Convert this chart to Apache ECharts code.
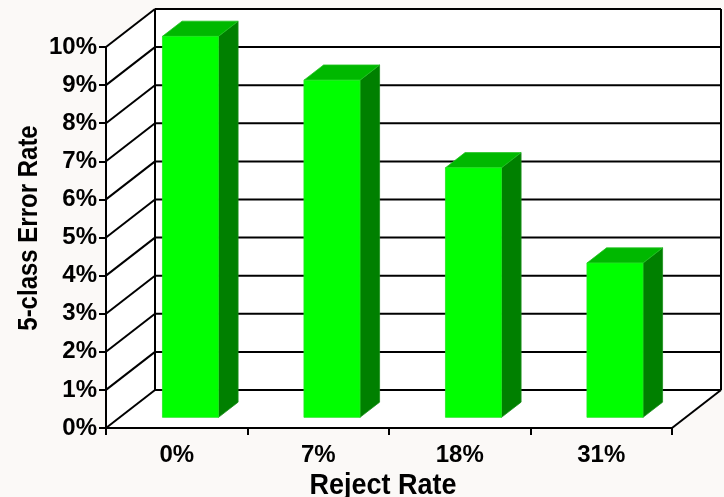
<!DOCTYPE html>
<html>
<head>
<meta charset="utf-8">
<script src="https://cdn.jsdelivr.net/npm/echarts@6/dist/echarts.min.js"></script>
<style>
  html, body { margin: 0; padding: 0; background: #fbf9f7; }
  #chart { width: 724px; height: 497px; }
</style>
</head>
<body>
<div id="chart"></div>
<script>
// Reject rate categories and the resulting 5-class error rate (%)
const categories = ['0%', '7%', '18%', '31%'];
const errorRates = [10.0, 8.85, 6.55, 4.05];
const yMin = 0, yMax = 10, yStep = 1;

// Pseudo-3D depth of the plot box (pixels)
const DEPTH_X = 49, DEPTH_Y = -38;
// Bar placement inside the depth (fractions of the depth)
const BAR_FRONT = 0.28, BAR_BACK = 0.68;
const BAR_WIDTH = 0.396;

const LINE = { stroke: '#000', lineWidth: 2 };
const FONT = 'Liberation Sans, Arial, sans-serif';

const chart = echarts.init(document.getElementById('chart'));

function renderWalls(params, api) {
  const cs = params.coordSys;
  const left = cs.x, right = cs.x + cs.width;
  const y0 = api.coord([0, yMin])[1];
  const yTop = api.coord([0, yMax])[1];
  const children = [];
  // left wall
  children.push({
    type: 'polygon',
    shape: { points: [[left, y0], [left, yTop], [left + DEPTH_X, yTop + DEPTH_Y], [left + DEPTH_X, y0 + DEPTH_Y]] },
    style: { fill: '#fff' }
  });
  // floor
  children.push({
    type: 'polygon',
    shape: { points: [[left, y0], [right, y0], [right + DEPTH_X, y0 + DEPTH_Y], [left + DEPTH_X, y0 + DEPTH_Y]] },
    style: { fill: '#fff' }
  });
  // back wall
  children.push({
    type: 'rect',
    shape: { x: left + DEPTH_X, y: yTop + DEPTH_Y, width: cs.width, height: y0 - yTop },
    style: { fill: '#fff' }
  });
  // grid lines on back wall and the left wall
  for (let v = yMin; v <= yMax; v += yStep) {
    const y = api.coord([0, v])[1];
    children.push({
      type: 'line',
      shape: { x1: left + DEPTH_X, y1: y + DEPTH_Y, x2: right + DEPTH_X, y2: y + DEPTH_Y },
      style: LINE
    });
    children.push({
      type: 'line',
      shape: { x1: left, y1: y, x2: left + DEPTH_X, y2: y + DEPTH_Y },
      style: LINE
    });
  }
  // wall edges
  children.push({
    type: 'line',
    shape: { x1: left + DEPTH_X, y1: yTop + DEPTH_Y, x2: left + DEPTH_X, y2: y0 + DEPTH_Y },
    style: LINE
  });
  children.push({
    type: 'line',
    shape: { x1: right + DEPTH_X, y1: yTop + DEPTH_Y, x2: right + DEPTH_X, y2: y0 + DEPTH_Y },
    style: LINE
  });
  children.push({
    type: 'line',
    shape: { x1: right, y1: y0, x2: right + DEPTH_X, y2: y0 + DEPTH_Y },
    style: LINE
  });
  return { type: 'group', children: children };
}

function renderBar(params, api) {
  const i = api.value(0), v = api.value(1);
  const base = api.coord([i, yMin]);
  const top = api.coord([i, v]);
  const w = api.size([1, 0])[0] * BAR_WIDTH;
  const fx = DEPTH_X * BAR_FRONT, fy = DEPTH_Y * BAR_FRONT;
  const dx = DEPTH_X * (BAR_BACK - BAR_FRONT), dy = DEPTH_Y * (BAR_BACK - BAR_FRONT);
  const x0 = base[0] + fx - w / 2, x1 = x0 + w;
  const yb = base[1] + fy, yt = top[1] + fy;
  return {
    type: 'group',
    children: [
      {
        type: 'polygon',
        shape: { points: [[x1, yt], [x1 + dx, yt + dy], [x1 + dx, yb + dy], [x1, yb]] },
        style: { fill: '#008000', stroke: '#1a8f1a', lineWidth: 0.8 }
      },
      {
        type: 'polygon',
        shape: { points: [[x0, yt], [x0 + dx, yt + dy], [x1 + dx, yt + dy], [x1, yt]] },
        style: { fill: '#00b800', stroke: '#22c422', lineWidth: 0.8 }
      },
      {
        type: 'rect',
        shape: { x: x0, y: yt, width: w, height: yb - yt },
        style: { fill: '#00ff00', stroke: '#22e622', lineWidth: 0.8 }
      }
    ]
  };
}

chart.setOption({
  backgroundColor: '#fbf9f7',
  animation: false,
  grid: { left: 106, top: 47, width: 566, height: 381 },
  xAxis: {
    type: 'category',
    data: categories,
    boundaryGap: true,
    z: 5,
    axisLine: { lineStyle: { color: '#000', width: 2 } },
    axisTick: { show: true, length: 7, inside: false, lineStyle: { color: '#000', width: 2 } },
    axisLabel: { color: '#000', fontFamily: FONT, fontWeight: 'bold', fontSize: 24, margin: 15 },
    splitLine: { show: false }
  },
  yAxis: {
    type: 'value',
    min: yMin,
    max: yMax,
    interval: yStep,
    z: 5,
    axisLine: { show: true, lineStyle: { color: '#000', width: 2 } },
    axisTick: { show: true, length: 7, lineStyle: { color: '#000', width: 2 } },
    axisLabel: { color: '#000', fontFamily: FONT, fontWeight: 'bold', fontSize: 24, margin: 9, formatter: '{value}%' },
    splitLine: { show: false }
  },
  graphic: [
    {
      type: 'text',
      x: 30, y: 228,
      rotation: Math.PI / 2,
      scaleY: 1.12,
      style: {
        text: '5-class Error Rate',
        fill: '#000',
        font: 'bold 24px ' + FONT,
        textAlign: 'center',
        textVerticalAlign: 'middle'
      }
    },
    {
      type: 'text',
      x: 383, y: 486,
      scaleY: 1.08,
      style: {
        text: 'Reject Rate',
        fill: '#000',
        font: 'bold 27px ' + FONT,
        textAlign: 'center',
        textVerticalAlign: 'middle'
      }
    }
  ],
  series: [
    {
      type: 'custom',
      z: 1,
      silent: true,
      renderItem: renderWalls,
      data: [[0, 0]]
    },
    {
      type: 'custom',
      z: 3,
      renderItem: renderBar,
      encode: { x: 0, y: 1 },
      data: errorRates.map((v, i) => [i, v])
    }
  ]
});
</script>
</body>
</html>
